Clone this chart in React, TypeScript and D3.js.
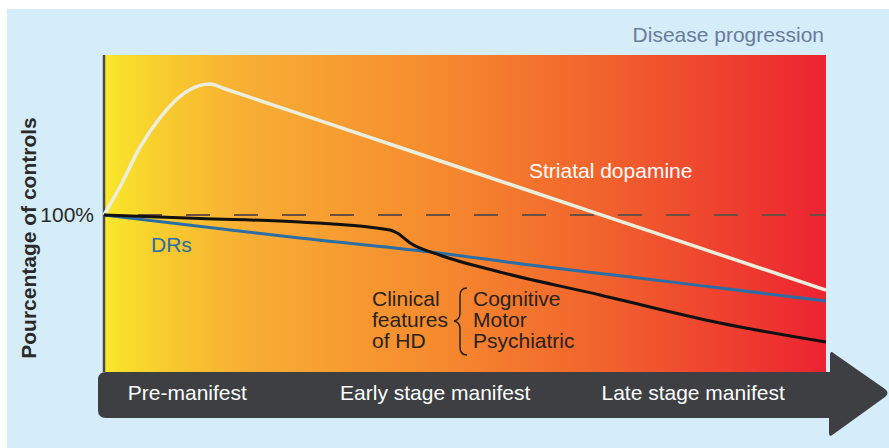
import React from "react";
import * as d3 from "d3";

// x: disease progression (0-100), y: percentage of controls
const dopamineX = [0, 2.2, 5.0, 7.8, 10.5, 13.3, 14.7, 16.5, 30, 50, 70, 85, 100];
const dopamineY = [100, 117.5, 142.5, 161, 174, 181, 181.9, 179.2, 158.8, 128.6, 98.4, 75.7, 53.1];
const clinicalX = [0, 13.3, 27.1, 39.6, 40.6, 42.4, 46.5, 54.8, 68.7, 85.3, 100];
const clinicalY = [100, 97.8, 95.6, 90.6, 88.75, 82.5, 75, 64.4, 50, 32.5, 20.6];
const drsX = [0, 27.1, 45.2, 59, 72.9, 85.3, 100];
const drsY = [100, 85.6, 76.9, 68.75, 61.25, 54.4, 46.25];
const baselineY = 100;
const stageLabels = ["Pre-manifest", "Early stage manifest", "Late stage manifest"];
const stageX = [3.3, 32.7, 68.9];
const clinicalLabel = ["Clinical", "features", "of HD"];
const clinicalItems = ["Cognitive", "Motor", "Psychiatric"];

const W = 889;
const H = 448;
const FONT = "'Liberation Sans', Arial, Helvetica, sans-serif";
const FS = 21;

export default function App() {
  const x = d3.scaleLinear().domain([0, 100]).range([104, 826]);
  const y = d3.scaleLinear().domain([0, 200]).range([375, 55]);
  const line = d3
    .line<[number, number]>()
    .x((d) => x(d[0]))
    .y((d) => y(d[1]))
    .curve(d3.curveMonotoneX);
  const zip = (a: number[], b: number[]) => a.map((v, i) => [v, b[i]] as [number, number]);

  const plotTop = 55;
  const plotBottom = 372;
  const bandTop = 372;
  const bandBottom = 418;

  const r = 5;
  const arrowPath = [
    `M ${98 + 8} ${bandTop}`,
    `L 830 ${bandTop}`,
    `L 830 ${350 + r}`,
    `Q 830 350 ${830 + r * 0.8} ${350 + r * 0.7}`,
    `L 885 389`,
    `Q 890 393 885 397`,
    `L ${829 + r * 0.8} ${438 - r * 0.7}`,
    `Q 829 438 829 ${438 - r}`,
    `L 829 ${bandBottom}`,
    `L ${98 + 8} ${bandBottom}`,
    `Q 98 ${bandBottom} 98 ${bandBottom - 8}`,
    `L 98 ${bandTop + 8}`,
    `Q 98 ${bandTop} ${98 + 8} ${bandTop}`,
    "Z",
  ].join(" ");

  const lineH = 21;
  const clinBase = 306;

  return (
    <div style={{ position: "absolute", left: 0, top: 0 }}>
      <svg width={W} height={H} style={{ display: "block" }} fontFamily={FONT}>
        <defs>
          <linearGradient id="heat" x1="0" x2="1" y1="0" y2="0">
            <stop offset="0" stopColor="#f9e82b" />
            <stop offset="0.08" stopColor="#f8cc2e" />
            <stop offset="0.2" stopColor="#f8ad34" />
            <stop offset="0.45" stopColor="#f68c2e" />
            <stop offset="0.7" stopColor="#f1612d" />
            <stop offset="1" stopColor="#ec2331" />
          </linearGradient>
        </defs>
        <rect x={0} y={0} width={W} height={H} fill="#ffffff" />
        <rect x={7} y={9} width={W - 7} height={H - 9} fill="#d4edf8" />
        <rect x={104} y={plotTop} width={722} height={plotBottom - plotTop + 2} fill="url(#heat)" />
        <line x1={104} x2={104} y1={plotTop} y2={plotBottom} stroke="#4a4a4a" strokeWidth={2.5} />

        <line
          x1={x(0)}
          x2={x(100)}
          y1={y(baselineY)}
          y2={y(baselineY)}
          stroke="#6e4e40"
          strokeWidth={2}
          strokeDasharray="24 24"
          strokeDashoffset={-34}
        />
        <path d={line(zip(dopamineX, dopamineY)) || ""} fill="none" stroke="#ebeedd" strokeWidth={3.5} />
        <path d={line(zip(drsX, drsY)) || ""} fill="none" stroke="#2b6ea6" strokeWidth={3} />
        <path d={line(zip(clinicalX, clinicalY)) || ""} fill="none" stroke="#111111" strokeWidth={3} />

        <text x={94} y={222} textAnchor="end" fontSize={FS} fill="#2a2a2a">100%</text>
        <text
          transform={`translate(36,238) rotate(-90)`}
          textAnchor="middle"
          fontSize={FS}
          fontWeight="bold"
          fill="#2a2a2a"
        >
          Pourcentage of controls
        </text>
        <text x={824} y={42} textAnchor="end" fontSize={FS} fill="#6a7b9c">Disease progression</text>
        <text x={151} y={252} fontSize={FS} fill="#2b6ea6">DRs</text>
        <text x={529} y={178} fontSize={FS} fill="#ffffff">Striatal dopamine</text>

        {clinicalLabel.map((t, i) => (
          <text key={t} x={372} y={clinBase + i * lineH} fontSize={FS} fill="#2a2220">{t}</text>
        ))}
        <path
          d="M 467 288 Q 460 288 460 296 L 460 313 Q 460 320 454 321 Q 460 322 460 329 L 460 347 Q 460 355 467 355"
          fill="none"
          stroke="#2a2220"
          strokeWidth={1.5}
        />
        {clinicalItems.map((t, i) => (
          <text key={t} x={473} y={clinBase + i * lineH} fontSize={FS} fill="#2a2220">{t}</text>
        ))}

        <path d={arrowPath} fill="#3d3f43" />
        {stageLabels.map((t, i) => (
          <text key={t} x={x(stageX[i])} y={400} fontSize={FS} fill="#ffffff">{t}</text>
        ))}
      </svg>
    </div>
  );
}
